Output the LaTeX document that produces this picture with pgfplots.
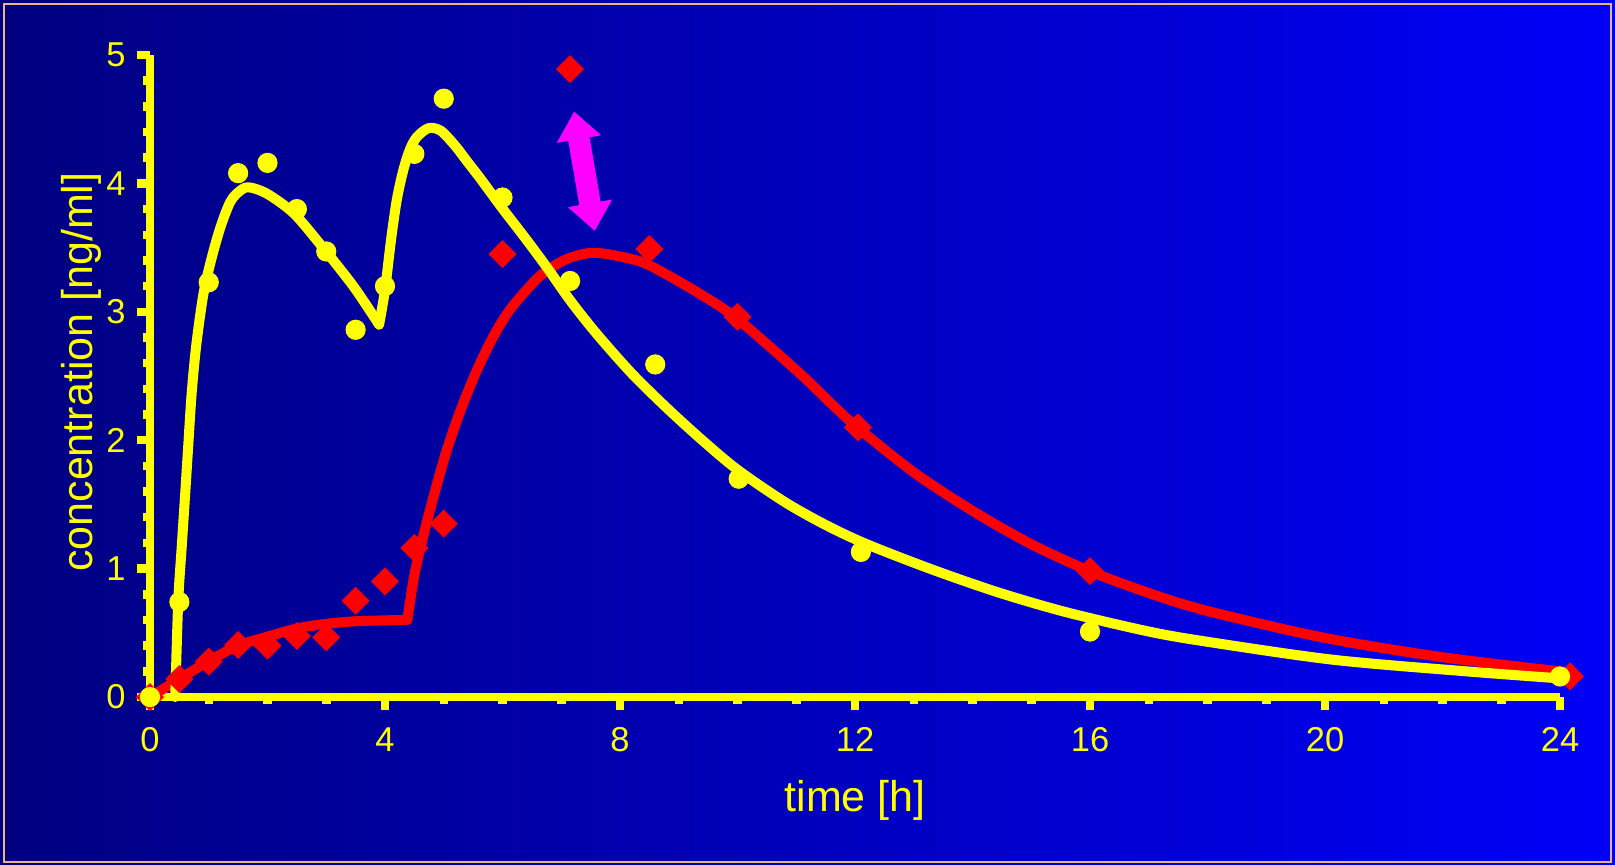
\documentclass[border=0pt]{standalone}
\usepackage{fontspec}
\setmainfont{Liberation Sans}
\usepackage{pgfplots}
\usepackage{pgfplotstable}
\pgfplotsset{compat=1.18}
\usetikzlibrary{arrows.meta}
\definecolor{bgL}{RGB}{0,0,128}
\definecolor{bgR}{RGB}{0,0,248}
\definecolor{frameC}{RGB}{232,182,128}
\definecolor{yel}{RGB}{255,255,0}
\definecolor{rd}{RGB}{255,0,0}
\definecolor{mag}{RGB}{255,0,255}

\pgfplotstableread{
x y
0 0
0.5 0.74
1 3.23
1.5 4.08
2 4.16
2.5 3.80
3 3.47
3.5 2.86
4 3.20
4.5 4.23
5 4.66
6 3.89
7.15 3.24
8.6 2.59
10.02 1.70
12.1 1.13
16 0.51
24 0.16
}\yelpts

\pgfplotstableread{
x y
0 0
0.5 0.14
1 0.275
1.5 0.405
2 0.40
2.5 0.475
3 0.465
3.5 0.75
4 0.90
4.5 1.16
5 1.35
6 3.45
7.15 4.89
8.5 3.49
10 2.96
12.05 2.10
16 0.98
24.17 0.16
}\redpts

\pgfplotstableread{
x y
0.43 0
0.48 0.74
0.54 1.17
0.60 1.59
0.65 1.95
0.71 2.37
0.79 2.75
0.91 3.14
1.05 3.42
1.2 3.66
1.36 3.85
1.5 3.93
1.67 3.97
1.99 3.92
2.44 3.77
2.89 3.53
3.46 3.20
3.90 2.90
}\yelA

\pgfplotstableread{
x y
3.90 2.90
4.0 3.17
4.1 3.55
4.2 3.87
4.31 4.10
4.42 4.26
4.54 4.36
4.74 4.43
4.95 4.41
5.2 4.29
5.4 4.17
5.62 4.04
5.99 3.81
6.36 3.59
6.75 3.35
7.15 3.09
7.6 2.83
8.2 2.52
8.8 2.25
9.4 2.00
10.0 1.77
10.8 1.52
11.5 1.34
12.2 1.19
13.33 0.99
14.47 0.81
15.6 0.66
17.0 0.51
18.0 0.43
20.14 0.29
22.4 0.20
24 0.145
}\yelB

\pgfplotstableread{
x y
0 0
0.5 0.14
1 0.28
1.5 0.40
2 0.47
2.51 0.535
3.0 0.57
3.5 0.59
4.0 0.597
4.38 0.60
}\redA

\pgfplotstableread{
x y
4.38 0.60
4.50 0.95
4.65 1.25
4.82 1.55
5.05 1.92
5.30 2.25
5.56 2.54
5.80 2.77
6.0 2.93
6.2 3.06
6.64 3.28
7.09 3.41
7.55 3.46
8.11 3.42
8.51 3.36
9.36 3.14
10.01 2.94
11.06 2.52
11.63 2.27
12.04 2.10
13.0 1.75
14.0 1.45
15.0 1.19
16.0 0.98
17.0 0.81
18.0 0.67
20.0 0.46
22.0 0.31
24 0.20
}\redB

\begin{document}
\begin{tikzpicture}
\shade[left color=bgL, right color=bgR] (0,0) rectangle (807.5pt,432pt);
\draw[frameC, line width=1pt] (2pt,1pt) rectangle (805.5pt,430pt);
\begin{axis}[
  at={(75pt,83.5pt)}, anchor=south west,
  scale only axis, width=705pt, height=321pt,
  xmin=0, xmax=24, ymin=0, ymax=5,
  axis x line=bottom, axis y line=left,
  axis line style={-, yel, line width=4.25pt},
  xtick={0,4,...,24}, ytick={0,1,...,5},
  minor x tick num=3, minor y tick num=4,
  tick align=outside,
  major tick length=6.5pt, minor tick length=3.5pt,
  tick style={yel, line width=4.25pt},
  ticklabel style={font=\fontsize{17.25pt}{20pt}\selectfont, text=yel, inner sep=0pt},
  xticklabel style={yshift=-8.5pt},
  yticklabel style={xshift=-5.5pt},
  /pgf/number format/assume math mode=true,
  xlabel={time [h]}, ylabel={concentration [ng/ml]},
  label style={font=\fontsize{21.5pt}{25pt}\selectfont, text=yel},
  xlabel style={at={(axis description cs:0.5,-0.1787)}, anchor=base},
  ylabel style={at={(axis description cs:-0.0407,0.506)}, anchor=base},
  clip=false,
]
\addplot[rd, line width=5pt, line cap=round, line join=round, smooth] table {\redA};
\addplot[rd, line width=5pt, line cap=round, line join=round, smooth] table {\redB};
\addplot[yel, line width=5pt, line cap=round, line join=round, smooth] table {\yelA};
\addplot[yel, line width=5pt, line cap=round, line join=round, smooth] table {\yelB};
\addplot[rd, only marks, mark=square*, mark size=4.7pt, mark options={rotate=45, fill=rd, draw=rd, line width=0.5pt}] table {\redpts};
\addplot[yel, only marks, mark=*, mark size=4.8pt, mark options={fill=yel, draw=yel, line width=0.5pt}] table {\yelpts};
\draw[mag, line width=10.8pt, {Triangle[width=21.5pt,length=14pt]}-{Triangle[width=21.5pt,length=14pt]}] (axis cs:7.22,4.56) -- (axis cs:7.57,3.63);
\end{axis}
\pgfresetboundingbox
\path[use as bounding box] (0,0) rectangle (807.5pt,432pt);
\end{tikzpicture}
\end{document}
